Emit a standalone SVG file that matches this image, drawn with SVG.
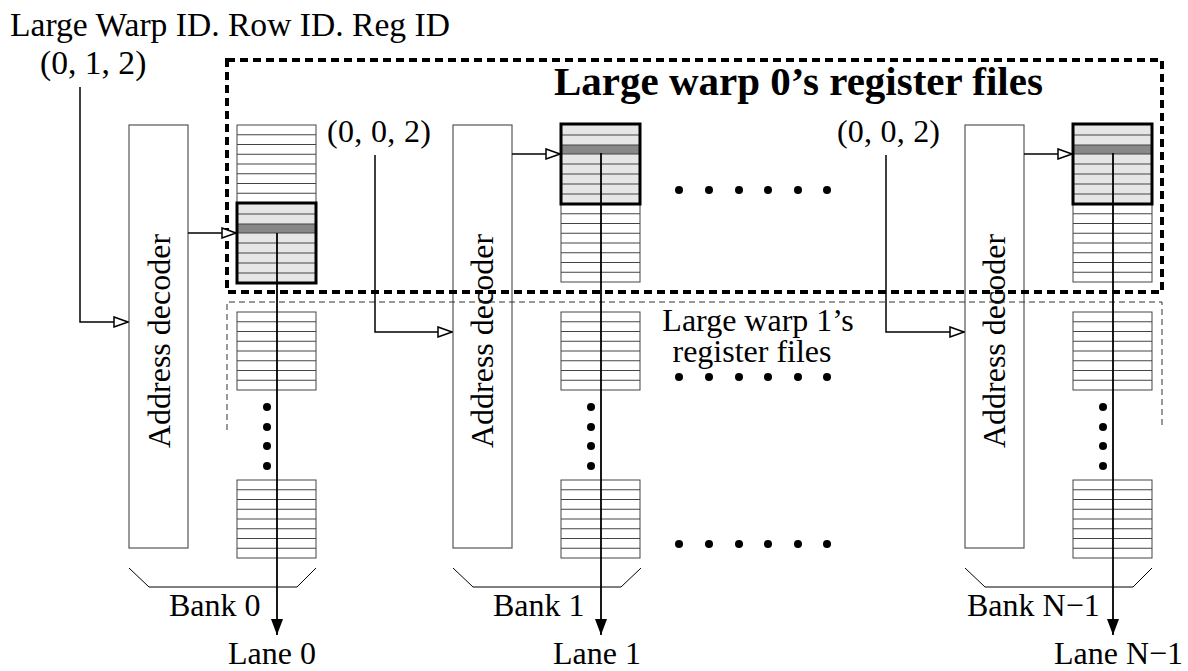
<svg xmlns="http://www.w3.org/2000/svg" xmlns:xlink="http://www.w3.org/1999/xlink" width="1188" height="671" viewBox="0 0 1188 671">
<style>
.t{font-family:"Liberation Serif","Times New Roman",serif;font-size:32px;fill:#000}
.tl{font-family:"Liberation Serif","Times New Roman",serif;font-size:33.6px;fill:#000}
.tb{font-family:"Liberation Serif","Times New Roman",serif;font-size:41px;font-weight:bold;fill:#000}
.reg{fill:#fff;stroke:#444;stroke-width:1}
.regl{fill:none;stroke:#444;stroke-width:1}
.blkf{fill:#e6e6e6}
.blkb{fill:none;stroke:#000;stroke-width:3}
.band{fill:#888}
.dec{fill:#fff;stroke:#555;stroke-width:1.2}
.wire{fill:none;stroke:#000;stroke-width:1.5}
.lane{fill:none;stroke:#000;stroke-width:1.8}
.brk{fill:none;stroke:#000;stroke-width:1}
.dot{fill:#000}
.thick{fill:none;stroke:#000;stroke-width:4;stroke-dasharray:8 5}
.thin{fill:none;stroke:#333;stroke-width:1;stroke-dasharray:6 4}
</style>
<defs>
<marker id="open" viewBox="-1 -1 16 12" refX="14" refY="5" markerWidth="16" markerHeight="12" markerUnits="userSpaceOnUse" orient="auto">
<path d="M0,0 L14,5 L0,10 z" fill="#fff" stroke="#000" stroke-width="1.5"/>
</marker>
<marker id="fill" viewBox="0 0 16 12" refX="16" refY="6" markerWidth="16" markerHeight="12" markerUnits="userSpaceOnUse" orient="auto">
<path d="M0,0 L16,6 L0,12 z" fill="#000"/>
</marker>
<g id="stack8">
<rect class="reg" x="0" y="0" width="79" height="78"/>
<path class="regl" d="M0,9.75h79M0,19.5h79M0,29.25h79M0,39h79M0,48.75h79M0,58.5h79M0,68.25h79"/>
</g>
<g id="vdots">
<circle class="dot" cx="0" cy="0" r="4"/>
<circle class="dot" cx="0" cy="20" r="4"/>
<circle class="dot" cx="0" cy="39" r="4"/>
<circle class="dot" cx="0" cy="59" r="4"/>
</g>
<g id="hdots">
<circle class="dot" cx="0" cy="0" r="4"/>
<circle class="dot" cx="30" cy="0" r="4"/>
<circle class="dot" cx="60" cy="0" r="4"/>
<circle class="dot" cx="89" cy="0" r="4"/>
<circle class="dot" cx="119" cy="0" r="4"/>
<circle class="dot" cx="148" cy="0" r="4"/>
</g>
<g id="blk">
<rect class="blkf" x="0" y="0" width="79" height="80"/>
<rect class="band" x="0" y="21" width="79" height="9"/>
<path class="regl" d="M0,11h79M0,21h79M0,30h79M0,40h79M0,50h79M0,60h79M0,70h79"/>
<rect class="blkb" x="0" y="0" width="79" height="80"/>
</g>
</defs>

<text class="tl" x="10" y="36">Large Warp ID. Row ID. Reg ID</text>
<text class="tl" x="40" y="74">(0, 1, 2)</text>
<text class="t" x="327" y="142" textLength="104">(0, 0, 2)</text>
<text class="t" x="837" y="142" textLength="103">(0, 0, 2)</text>

<g id="bank0" transform="translate(129,0)">
<rect class="dec" x="0" y="125" width="59" height="423"/>
<text class="t" text-anchor="middle" transform="translate(41,341) rotate(-90)">Address decoder</text>
<use xlink:href="#stack8" x="108" y="125"/>
<use xlink:href="#blk" x="108" y="203"/>
<use xlink:href="#stack8" x="108" y="312"/>
<use xlink:href="#stack8" x="108" y="480"/>
<use xlink:href="#vdots" x="138" y="407"/>
<path class="brk" d="M0,568 L20,587 L168,587 L187,568"/>
<text class="t" x="40" y="616">Bank 0</text>
<text class="t" x="99" y="664">Lane 0</text>
</g>

<g id="bank1" transform="translate(453,0)">
<rect class="dec" x="0" y="125" width="59" height="423"/>
<text class="t" text-anchor="middle" transform="translate(40,341) rotate(-90)">Address decoder</text>
<use xlink:href="#stack8" x="108" y="204"/>
<use xlink:href="#blk" x="108" y="124"/>
<use xlink:href="#stack8" x="108" y="312"/>
<use xlink:href="#stack8" x="108" y="480"/>
<use xlink:href="#vdots" x="138" y="407"/>
<path class="brk" d="M0,568 L20,587 L168,587 L188,568"/>
<text class="t" x="40" y="616">Bank 1</text>
<text class="t" x="100" y="664">Lane 1</text>
</g>

<g id="bankN" transform="translate(965,0)">
<rect class="dec" x="0" y="125" width="59" height="423"/>
<text class="t" text-anchor="middle" transform="translate(40,341) rotate(-90)">Address decoder</text>
<use xlink:href="#stack8" x="108" y="204"/>
<use xlink:href="#blk" x="108" y="124"/>
<use xlink:href="#stack8" x="108" y="312"/>
<use xlink:href="#stack8" x="108" y="480"/>
<use xlink:href="#vdots" x="138" y="407"/>
<path class="brk" d="M0,568 L20,587 L168,587 L187,568"/>
<text class="t" x="2" y="616">Bank N−1</text>
<text class="t" x="89" y="664">Lane N−1</text>
</g>

<g id="dots">
<use xlink:href="#hdots" x="679" y="190"/>
<use xlink:href="#hdots" x="679" y="377"/>
<use xlink:href="#hdots" x="679" y="544"/>
</g>

<g id="warp0">
<rect class="thick" x="227" y="60" width="935" height="232"/>
<text class="tb" x="554" y="95">Large warp 0’s register files</text>
</g>

<g id="warp1">
<path class="thin" d="M227,430 V302 H1162 V428"/>
<text class="t" x="758" y="331" text-anchor="middle">Large warp 1’s</text>
<text class="t" x="752" y="362" text-anchor="middle">register files</text>
</g>

<g id="connectors">
<path class="wire" d="M80,87 V322 H128" marker-end="url(#open)"/>
<path class="wire" d="M375,155 V332 H452" marker-end="url(#open)"/>
<path class="wire" d="M886,155 V332 H964" marker-end="url(#open)"/>
<path class="wire" d="M188,233 H236" marker-end="url(#open)"/>
<path class="wire" d="M512,154 H560" marker-end="url(#open)"/>
<path class="wire" d="M1024,154 H1072" marker-end="url(#open)"/>
<path class="lane" d="M277,233 V635" marker-end="url(#fill)"/>
<path class="lane" d="M601,153 V635" marker-end="url(#fill)"/>
<path class="lane" d="M1113,153 V635" marker-end="url(#fill)"/>
</g>
</svg>
